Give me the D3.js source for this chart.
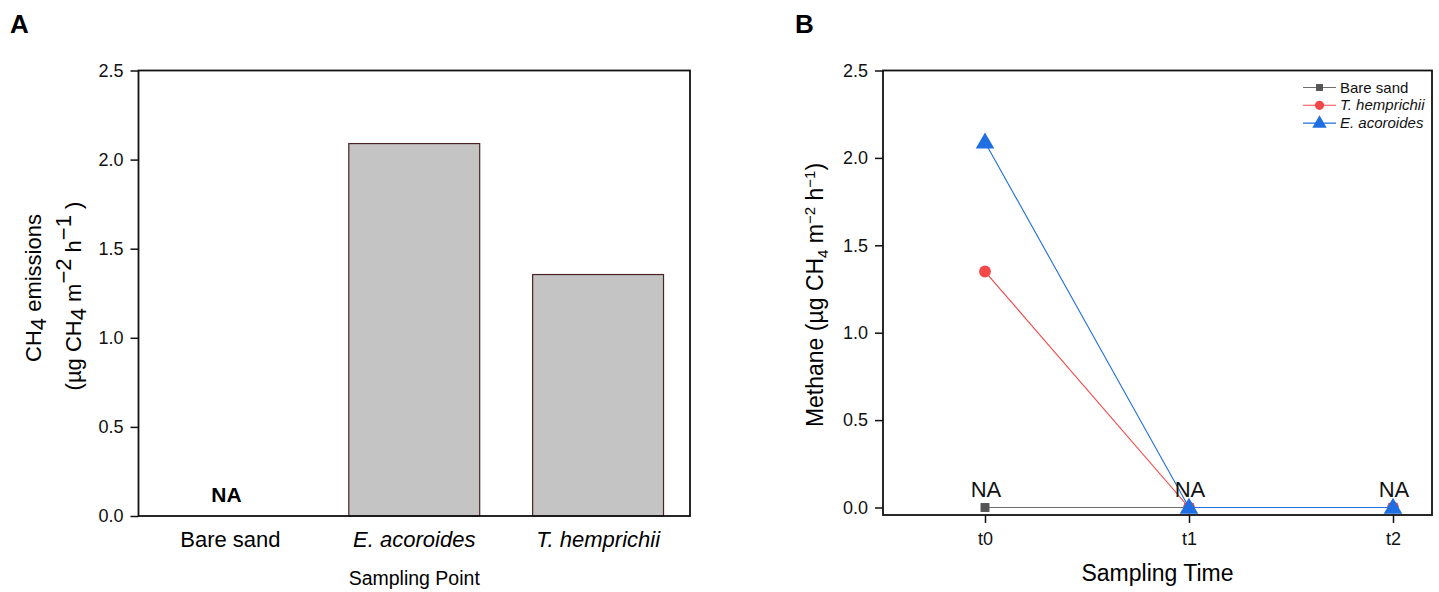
<!DOCTYPE html>
<html>
<head>
<meta charset="utf-8">
<script src="https://cdn.jsdelivr.net/npm/d3@7"></script>
<style>
  html, body { margin: 0; padding: 0; background: #fff; }
  svg { display: block; font-family: "Liberation Sans", Arial, sans-serif; }
</style>
</head>
<body>
<svg id="chart" width="1439" height="592"></svg>
<script>
// ---------- Data ----------
const barCategories = ["Bare sand", "E. acoroides", "T. hemprichii"];
const barItalic = [false, true, true];
const barValues = [null, 2.09, 1.355];
const barNA = ["NA", null, null];

const yTicks = [0.0, 0.5, 1.0, 1.5, 2.0, 2.5];

const timeLabels = ["t0", "t1", "t2"];
const seriesNames = ["Bare sand", "T. hemprichii", "E. acoroides"];
const seriesItalic = [false, true, true];
const bareSandValues = [0, 0, 0];
const tHemprichiiValues = [1.35, 0, 0];
const eAcoroidesValues = [2.09, 0, 0];
const naLabels = ["NA", "NA", "NA"];

const seriesColors = ["#555555", "#f44848", "#1f6ee2"];
const seriesLineColors = ["#6e6e6e", "#f44848", "#1f6ee2"];
const seriesSymbols = [d3.symbolSquare, d3.symbolCircle, d3.symbolTriangle];
const seriesSymbolSizes = [80, 110, 150];

const FONT = "Liberation Sans, Arial, sans-serif";
const svg = d3.select("#chart");

// ---------- Panel A ----------
const A = { left: 138.5, right: 690, top: 70.5, bottom: 516 };
const xA = d3.scaleBand().domain(barCategories).range([A.left, A.right]).paddingInner(0).paddingOuter(0);
const yA = d3.scaleLinear().domain([0, 2.5]).range([A.bottom, A.top]);
const gA = svg.append("g");

const barW = xA.bandwidth() * 0.712;
gA.selectAll("rect.bar")
  .data(barCategories.map((c, i) => ({ c, v: barValues[i] })).filter(d => d.v != null))
  .enter().append("rect")
  .attr("x", d => xA(d.c) + (xA.bandwidth() - barW) / 2)
  .attr("y", d => yA(d.v))
  .attr("width", barW)
  .attr("height", d => yA(0) - yA(d.v))
  .attr("fill", "#c4c4c4")
  .attr("stroke", "#4a2424")
  .attr("stroke-width", 1.2);

gA.selectAll("text.na")
  .data(barCategories.map((c, i) => ({ c, t: barNA[i] })).filter(d => d.t))
  .enter().append("text")
  .attr("x", d => xA(d.c) + xA.bandwidth() / 2 - 4)
  .attr("y", 502)
  .attr("text-anchor", "middle")
  .attr("font-weight", "bold")
  .attr("font-size", 21)
  .text(d => d.t);

const axA = gA.append("g").attr("transform", `translate(${A.left},0)`)
  .call(d3.axisLeft(yA).tickValues(yTicks).tickFormat(d3.format(".1f")).tickSize(8).tickPadding(7));
axA.select(".domain").remove();
axA.selectAll("line").attr("stroke", "#111").attr("stroke-width", 1.5);
axA.selectAll("text").attr("font-size", 18).attr("fill", "#111").style("font-family", FONT);

gA.append("rect").attr("x", A.left).attr("y", A.top).attr("width", A.right - A.left).attr("height", A.bottom - A.top)
  .attr("fill", "none").attr("stroke", "#111").attr("stroke-width", 1.8);

gA.selectAll("text.cat").data(barCategories).enter().append("text")
  .attr("x", d => xA(d) + xA.bandwidth() / 2)
  .attr("y", 547)
  .attr("text-anchor", "middle")
  .attr("font-size", 22)
  .attr("font-style", (d, i) => barItalic[i] ? "italic" : "normal")
  .text(d => d);

gA.append("text").attr("x", (A.left + A.right) / 2).attr("y", 585).attr("text-anchor", "middle")
  .attr("font-size", 19.5).text("Sampling Point");

// Y label A (two lines)
const ylA1 = gA.append("text").attr("transform", `translate(41,288) rotate(-90)`)
  .attr("text-anchor", "middle").attr("font-size", 22);
ylA1.append("tspan").text("CH");
ylA1.append("tspan").attr("dy", 5).text("4");
ylA1.append("tspan").attr("dy", -5).text(" emissions");

const ylA2 = gA.append("text").attr("transform", `translate(81,296) rotate(-90)`)
  .attr("text-anchor", "middle").attr("font-size", 22);
ylA2.append("tspan").text("(µg CH");
ylA2.append("tspan").attr("dy", 5).text("4");
ylA2.append("tspan").attr("dy", -5).text(" m");
ylA2.append("tspan").attr("dy", -10).text("−2");
ylA2.append("tspan").attr("dy", 10).text(" h");
ylA2.append("tspan").attr("dy", -10).text("−1");
ylA2.append("tspan").attr("dy", 10).text(" )");

svg.append("text").attr("x", 10).attr("y", 33).attr("font-size", 26).attr("font-weight", "bold").text("A");

// ---------- Panel B ----------
const B = { left: 883, right: 1432, top: 70.5, bottom: 515 };
const xB = d3.scalePoint().domain(timeLabels).range([985, 1393]);
const yB = d3.scaleLinear().domain([0, 2.5]).range([507.5, 70.5]);
const gB = svg.append("g");

const axBy = gB.append("g").attr("transform", `translate(${B.left},0)`)
  .call(d3.axisLeft(yB).tickValues(yTicks).tickFormat(d3.format(".1f")).tickSize(8).tickPadding(7));
axBy.select(".domain").remove();
axBy.selectAll("line").attr("stroke", "#111").attr("stroke-width", 1.5);
axBy.selectAll("text").attr("font-size", 18).attr("fill", "#111").style("font-family", FONT);

const axBx = gB.append("g").attr("transform", `translate(0,${B.bottom})`)
  .call(d3.axisBottom(xB).tickSize(8).tickPadding(9));
axBx.select(".domain").remove();
axBx.selectAll("line").attr("stroke", "#111").attr("stroke-width", 1.5);
axBx.selectAll("text").attr("font-size", 18).attr("fill", "#111").style("font-family", FONT);

gB.append("rect").attr("x", B.left).attr("y", B.top).attr("width", B.right - B.left).attr("height", B.bottom - B.top)
  .attr("fill", "none").attr("stroke", "#111").attr("stroke-width", 1.8);

const seriesData = [bareSandValues, tHemprichiiValues, eAcoroidesValues];
const line = d3.line().x((d, i) => xB(timeLabels[i])).y(d => yB(d));
seriesData.forEach((vals, s) => {
  gB.append("path").datum(vals).attr("d", line).attr("fill", "none")
    .attr("stroke", seriesLineColors[s]).attr("stroke-width", 1.1);
});
seriesData.forEach((vals, s) => {
  gB.selectAll(null).data(vals).enter().append("path")
    .attr("transform", (d, i) => `translate(${xB(timeLabels[i])},${yB(d) + (s === 2 ? 1 : 0)})`)
    .attr("d", d3.symbol().type(seriesSymbols[s]).size(seriesSymbolSizes[s]))
    .attr("fill", seriesColors[s]);
});

gB.selectAll("text.na").data(naLabels).enter().append("text")
  .attr("x", (d, i) => xB(timeLabels[i]) + 1)
  .attr("y", 497)
  .attr("text-anchor", "middle").attr("font-size", 22).attr("fill", "#111")
  .text(d => d);

// Legend
const lg = gB.append("g").attr("transform", "translate(1303,87.5)");
seriesNames.forEach((n, s) => {
  const row = lg.append("g").attr("transform", `translate(0,${s * 17.8})`);
  row.append("line").attr("x1", 0).attr("x2", 33).attr("y1", 0).attr("y2", 0)
    .attr("stroke", seriesLineColors[s]).attr("stroke-width", 1.1);
  row.append("path").attr("transform", `translate(16.5,${s === 2 ? 0.5 : 0})`)
    .attr("d", d3.symbol().type(seriesSymbols[s]).size(seriesSymbolSizes[s] * 0.6))
    .attr("fill", seriesColors[s]);
  row.append("text").attr("x", 37).attr("y", 5).attr("font-size", 15)
    .attr("font-style", seriesItalic[s] ? "italic" : "normal").attr("fill", "#111").text(n);
});

gB.append("text").attr("x", (B.left + B.right) / 2).attr("y", 581).attr("text-anchor", "middle")
  .attr("font-size", 23).text("Sampling Time");

const ylB = gB.append("text").attr("transform", `translate(823,295) rotate(-90)`)
  .attr("text-anchor", "middle").attr("font-size", 23);
ylB.append("tspan").text("Methane (µg CH");
ylB.append("tspan").attr("dy", 5).attr("font-size", 15).text("4");
ylB.append("tspan").attr("dy", -5).text(" m");
ylB.append("tspan").attr("dy", -8).attr("font-size", 15).text("−2");
ylB.append("tspan").attr("dy", 8).text(" h");
ylB.append("tspan").attr("dy", -8).attr("font-size", 15).text("−1");
ylB.append("tspan").attr("dy", 8).text(")");

svg.append("text").attr("x", 795).attr("y", 33).attr("font-size", 26).attr("font-weight", "bold").text("B");
</script>
</body>
</html>
